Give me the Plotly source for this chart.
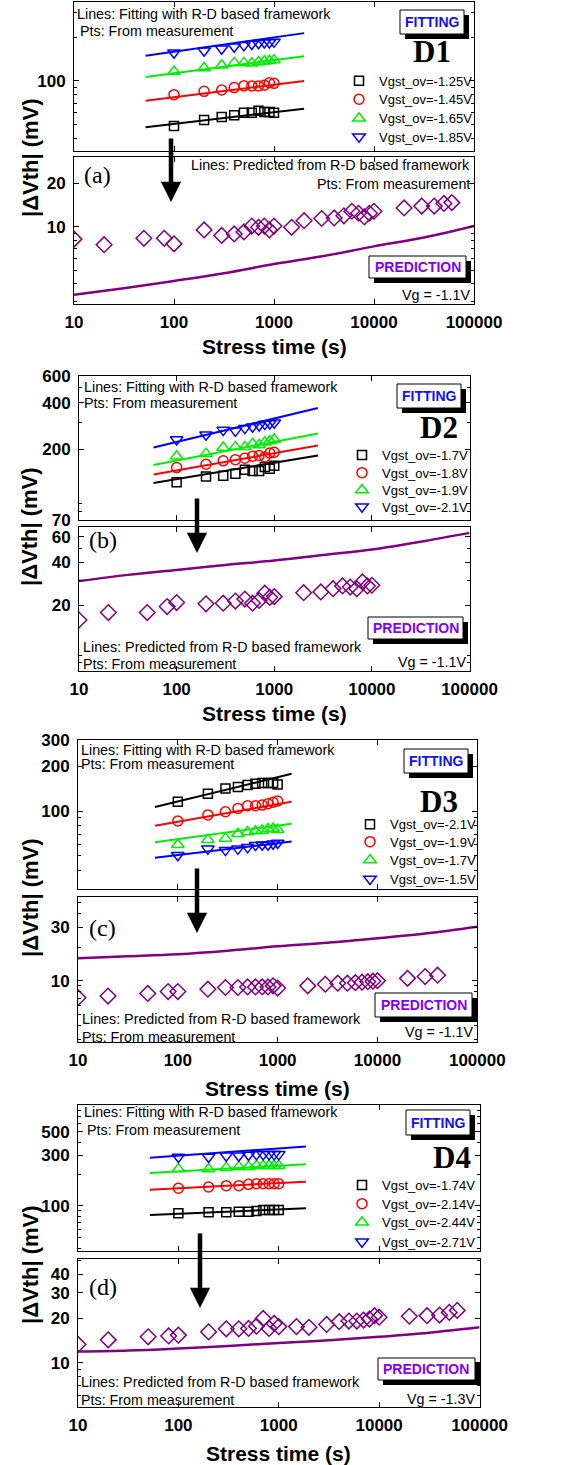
import plotly.graph_objects as go

W, H = 588, 1465

# ---------------- data ----------------
t_fit = [100, 200, 300, 400, 500, 600, 700, 800, 900, 1000]
t_pred = [10, 31.6, 100, 316, 1000, 3162, 10000, 31623, 100000]
x_ticks = [10, 100, 1000, 10000, 100000]
x_ticktext = ["10", "100", "1000", "10000", "100000"]

# Panel (a) D1
a_legend = ["Vgst_ov=-1.25V", "Vgst_ov=-1.45V", "Vgst_ov=-1.65V", "Vgst_ov=-1.85V"]
a_pts_black = [48.4, 53.3, 55.9, 57.5, 60, 60, 61.9, 60.6, 60.6, 60]
a_pts_red = [80, 84.4, 86.2, 89.6, 92.1, 92, 92, 93, 96.8, 95.9]
a_pts_green = [116, 122.5, 127.9, 133, 133, 132, 134.8, 136.4, 137.7, 139]
a_pts_blue = [156.5, 161.6, 166.8, 172, 176, 180, 182, 184, 184, 186]
a_line_t = [52, 2000]
a_line_black = [47.5, 63.9]
a_line_red = [72.6, 99.5]
a_line_green = [106, 148]
a_line_blue = [149, 214]
a_meas_t = [10, 20, 50, 80, 100, 200, 300, 400, 500, 600, 700, 800, 900, 1000, 1500, 2000,
            3000, 4000, 5000, 6000, 7000, 8000, 9000, 10000, 20000, 30000, 40000, 50000, 60000]
a_meas = [8.2, 7.5, 8.3, 8.3, 7.6, 9.5, 8.7, 8.9, 9.2, 10.1, 9.9, 10.1, 9.5, 10.1, 9.9, 11.0,
          11.4, 11.5, 11.9, 12.8, 12.4, 11.7, 12.4, 12.8, 13.5, 13.9, 13.9, 14.5, 14.7]
a_pred = [3.36, 3.74, 4.2, 4.75, 5.5, 6.26, 7.3, 8.4, 10.1]
a_yticks_up = [100]
a_yticks_lo = [10, 20]

# Panel (b) D2
b_legend = ["Vgst_ov=-1.7V", "Vgst_ov=-1.8V", "Vgst_ov=-1.9V", "Vgst_ov=-2.1V"]
b_pts_black = [122.6, 134, 135.5, 139.6, 148, 145, 145, 154, 150, 157]
b_pts_red = [152.8, 160.6, 169, 172, 175.6, 181, 183, 179, 190, 192]
b_pts_green = [181, 188, 206, 208, 208, 218, 214, 223, 227, 232]
b_pts_blue = [232, 249, 267, 264, 275, 281, 286, 292, 295, 298]
b_line_t = [58, 2800]
b_line_black = [121.6, 183]
b_line_red = [138, 212]
b_line_green = [159, 254]
b_line_blue = [206, 371]
b_meas_t = [10, 20, 50, 80, 100, 200, 300, 400, 500, 600, 700, 800, 900, 1000, 2000,
            3000, 4000, 5000, 6000, 7000, 8000, 9000, 10000]
b_meas = [15.8, 17.8, 17.8, 19.6, 20.9, 20.5, 20.7, 21.4, 22.1, 20.7, 21.6, 24.3, 22.7, 23, 24.5,
          24.8, 26.1, 27.3, 26.8, 26.1, 29.1, 27.3, 27.6]
b_pred = [29.5, 32.6, 35.3, 38.2, 41, 44.8, 49, 55.5, 64]
b_yticks_up = [70, 200, 400, 600]
b_yticks_lo = [20, 40, 60]

# Panel (c) D3
c_legend = ["Vgst_ov=-2.1V", "Vgst_ov=-1.9V", "Vgst_ov=-1.7V", "Vgst_ov=-1.5V"]
c_pts_black = [115.6, 130.7, 142, 145, 149.8, 152.8, 154.5, 154.5, 154.5, 151]
c_pts_red = [85.8, 94.3, 99.1, 104.3, 108.6, 108.6, 109.8, 112, 114.6, 117]
c_pts_green = [59.4, 64.3, 65.6, 70.4, 72.5, 73.4, 74.2, 75.8, 76.5, 75]
c_pts_blue = [50.6, 55.8, 54.7, 55.8, 57.1, 59.1, 59.4, 59.4, 60.3, 61]
c_line_t = [59, 1380]
c_line_black = [106.5, 178]
c_line_red = [79.8, 115.6]
c_line_green = [61.8, 82.3]
c_line_blue = [48.6, 62.5]
c_meas_t = [10, 20, 50, 80, 100, 200, 300, 400, 500, 600, 700, 800, 900, 1000, 2000,
            3000, 4000, 5000, 6000, 7000, 8000, 9000, 10000, 20000, 30000, 40000]
c_meas = [7.05, 7.3, 7.7, 8.0, 8.0, 8.4, 8.7, 8.7, 8.8, 8.8, 8.8, 8.8, 9.0, 8.6, 9.0,
          9.3, 9.5, 9.5, 9.6, 9.7, 9.8, 9.9, 10.0, 10.5, 10.9, 11.2]
c_pred = [15.9, 16.5, 17.2, 18.5, 20.3, 21.8, 23.9, 26.5, 30.3]
c_yticks_up = [100, 200, 300]
c_yticks_lo = [10, 30]

# Panel (d) D4
d_legend = ["Vgst_ov=-1.74V", "Vgst_ov=-2.14V", "Vgst_ov=-2.44V", "Vgst_ov=-2.71V"]
d_pts_black = [85.3, 87.2, 87.2, 88.4, 88.4, 89.7, 91.7, 91.7, 91.7, 91.7]
d_pts_red = [146.9, 151, 155.5, 155.5, 160, 162, 162, 162, 162, 162]
d_pts_green = [223.5, 223.5, 230, 235, 235, 240, 240, 240, 240, 240]
d_pts_blue = [290, 290, 298, 298, 303, 307, 307, 307, 307, 307]
d_line_t = [52, 1866]
d_line_black = [82.2, 95.1]
d_line_red = [142.5, 169.5]
d_line_green = [205, 247]
d_line_blue = [285, 365]
d_meas_t = [10, 20, 50, 80, 100, 200, 300, 400, 500, 600, 700, 800, 900, 1000, 1500, 2000,
            3000, 4000, 5000, 6000, 7000, 8000, 9000, 10000, 20000, 30000, 40000, 50000, 60000]
d_meas = [13.3, 14.3, 15.0, 15.2, 15.4, 16.2, 17.0, 17.0, 17.1, 17.7, 20.0, 17.1, 18.5, 17.6, 17.6, 17.4,
          18.2, 19.0, 19.2, 19.2, 19.5, 19.8, 20.9, 20.4, 20.7, 20.9, 21.1, 22.0, 22.7]
d_pred = [11.9, 12.1, 12.5, 13.0, 13.6, 14.2, 15.0, 16.0, 17.4]
d_yticks_up = [100, 300, 500]
d_yticks_lo = [10, 20, 30, 40]

panels_data = [
    dict(legend=a_legend, pts=[a_pts_black, a_pts_red, a_pts_green, a_pts_blue], line_t=a_line_t,
         lines=[a_line_black, a_line_red, a_line_green, a_line_blue], meas_t=a_meas_t, meas=a_meas,
         pred=a_pred, yt_up=a_yticks_up, yt_lo=a_yticks_lo, name="D1", tag="(a)", vg="Vg = -1.1V"),
    dict(legend=b_legend, pts=[b_pts_black, b_pts_red, b_pts_green, b_pts_blue], line_t=b_line_t,
         lines=[b_line_black, b_line_red, b_line_green, b_line_blue], meas_t=b_meas_t, meas=b_meas,
         pred=b_pred, yt_up=b_yticks_up, yt_lo=b_yticks_lo, name="D2", tag="(b)", vg="Vg = -1.1V"),
    dict(legend=c_legend, pts=[c_pts_black, c_pts_red, c_pts_green, c_pts_blue], line_t=c_line_t,
         lines=[c_line_black, c_line_red, c_line_green, c_line_blue], meas_t=c_meas_t, meas=c_meas,
         pred=c_pred, yt_up=c_yticks_up, yt_lo=c_yticks_lo, name="D3", tag="(c)", vg="Vg = -1.1V"),
    dict(legend=d_legend, pts=[d_pts_black, d_pts_red, d_pts_green, d_pts_blue], line_t=d_line_t,
         lines=[d_line_black, d_line_red, d_line_green, d_line_blue], meas_t=d_meas_t, meas=d_meas,
         pred=d_pred, yt_up=d_yticks_up, yt_lo=d_yticks_lo, name="D4", tag="(d)", vg="Vg = -1.3V"),
]

# ---------------- layout geometry (pixels) ----------------
geom = [
    dict(x0=74, x1=474, up=(1.5, 150.7), lo=(157.3, 304), yr_up=(1.514, 2.55), yr_lo=(0.463, 1.482),
         fit_txt=(75, 14, 31, 78), fit_box=(400, 10, 464, 34), dname=(432, 51),
         leg_x=339, leg_rows=(80.7, 99.3, 118.3, 136.7), tag=(82, 175),
         pred_txt=("right", 472, 165, 184), pbox=(369, 256, 466, 278),
         vg=(472, 295), arrow=(171, 137, 202), ytitle=158, xtitle=346),
    dict(x0=79, x1=469.5, up=(375.7, 520), lo=(527.3, 670.7), yr_up=(1.845, 2.7785), yr_lo=(0.845, 1.845),
         fit_txt=(82, 387, 403, 82), fit_box=(397, 384, 461, 408), dname=(439, 427),
         leg_x=342, leg_rows=(455, 472.7, 490, 506.7), tag=(87, 540),
         pred_txt=("left", 81, 647, 664), pbox=(368, 617, 463, 639),
         vg=(468, 662), arrow=(197, 497, 553), ytitle=527, xtitle=713),
    dict(x0=78, x1=477.3, up=(740, 889), lo=(896.7, 1041.7), yr_up=(1.477, 2.4775), yr_lo=(0.4554, 1.7504),
         fit_txt=(79, 750, 764, 79), fit_box=(404, 749, 468, 773), dname=(439, 802),
         leg_x=350, leg_rows=(824.3, 841.7, 860, 879), tag=(87, 928),
         pred_txt=("left", 80, 1019, 1037), pbox=(375, 993, 472, 1017),
         vg=(475, 1032), arrow=(197, 867, 933), ytitle=898, xtitle=1088),
    dict(x0=78, x1=479.5, up=(1105, 1251), lo=(1259, 1406.7), yr_up=(1.575, 2.953), yr_lo=(0.70, 1.706),
         fit_txt=(82, 1112, 1130, 85), fit_box=(406, 1110, 470, 1135), dname=(452, 1157),
         leg_x=342, leg_rows=(1185, 1203.7, 1222.3, 1241.7), tag=(87, 1287),
         pred_txt=("left", 79, 1382, 1400), pbox=(378, 1358, 475, 1380),
         vg=(477, 1399), arrow=(200, 1232, 1308), ytitle=1265, xtitle=1453),
]

COLORS = ["#000000", "#FF0000", "#00EE00", "#0000FF"]
SYMBOLS = ["square-open", "circle-open", "triangle-up-open", "triangle-down-open"]
SIZES = [9, 10, 11, 11]
PURPLE = "#800080"
ARIAL = "Arial, Liberation Sans, sans-serif"
TIMES = "Times New Roman, Liberation Serif, serif"
TXT = 14.3


def px(x):
    return x / W


def py(y):
    return 1 - y / H


def minor_vals(r):
    import math
    vals = []
    for e in range(int(math.floor(r[0])) - 1, int(math.ceil(r[1])) + 1):
        for k in range(2, 10):
            v = k * 10 ** e
            if r[0] <= math.log10(v) <= r[1]:
                vals.append(v)
    return vals


fig = go.Figure()
layout = dict(width=W, height=H, margin=dict(l=0, r=0, t=0, b=0, autoexpand=False), autosize=False,
              paper_bgcolor="white", plot_bgcolor="white", showlegend=True)
annotations = []
shapes = []

axis_common = dict(type="log", showline=True, linecolor="black", linewidth=1, mirror="ticks",
                   ticks="inside", ticklen=5, tickwidth=1, tickcolor="black", showgrid=False,
                   zeroline=False, automargin=False,
                   tickfont=dict(family=ARIAL, size=17, color="black", weight="bold"))

legend_count = 0
for i, (dd, g) in enumerate(zip(panels_data, geom)):
    nu, nl = 2 * i + 1, 2 * i + 2
    xu = "x" if nu == 1 else f"x{nu}"
    yu = "y" if nu == 1 else f"y{nu}"
    xl, yl = f"x{nl}", f"y{nl}"
    kxu = "xaxis" if nu == 1 else f"xaxis{nu}"
    kyu = "yaxis" if nu == 1 else f"yaxis{nu}"
    kxl, kyl = f"xaxis{nl}", f"yaxis{nl}"
    dom_x = [px(g["x0"]), px(g["x1"])]

    layout[kxu] = dict(axis_common, domain=dom_x, range=[1, 5], anchor=yu, tickvals=x_ticks,
                       ticktext=x_ticktext, showticklabels=False)
    layout[kxl] = dict(axis_common, domain=dom_x, range=[1, 5], anchor=yl, tickvals=x_ticks,
                       ticktext=x_ticktext, showticklabels=True, ticklabelstandoff=3)
    layout[kyu] = dict(axis_common, domain=[py(g["up"][1]), py(g["up"][0])], range=list(g["yr_up"]),
                       anchor=xu, tickvals=dd["yt_up"], ticktext=[str(v) for v in dd["yt_up"]],
                       minor=dict(tickvals=minor_vals(g["yr_up"]), ticks="inside", ticklen=3,
                                  tickcolor="black", showgrid=False), ticklabelstandoff=4)
    layout[kyl] = dict(axis_common, domain=[py(g["lo"][1]), py(g["lo"][0])], range=list(g["yr_lo"]),
                       anchor=xl, tickvals=dd["yt_lo"], ticktext=[str(v) for v in dd["yt_lo"]],
                       minor=dict(tickvals=minor_vals(g["yr_lo"]), ticks="inside", ticklen=3,
                                  tickcolor="black", showgrid=False), ticklabelstandoff=4)

    # fit lines
    for k in range(4):
        fig.add_trace(go.Scatter(x=dd["line_t"], y=dd["lines"][k], mode="lines",
                                 line=dict(color=COLORS[k], width=2), xaxis=xu, yaxis=yu,
                                 showlegend=False, hoverinfo="skip"))
    # measured points, one legend box per entry so the rows sit where the reference has them
    for k in range(4):
        legend_count += 1
        legname = "legend" if legend_count == 1 else f"legend{legend_count}"
        layout[legname] = dict(x=px(g["leg_x"]), y=py(g["leg_rows"][k]), xanchor="left",
                               yanchor="middle", bgcolor="rgba(0,0,0,0)",
                               font=dict(family=ARIAL, size=13, color="black"),
                               itemwidth=30, tracegroupgap=0)
        fig.add_trace(go.Scatter(x=t_fit, y=dd["pts"][k], mode="markers", name=dd["legend"][k],
                                 marker=dict(symbol=SYMBOLS[k], size=SIZES[k], color=COLORS[k],
                                             line=dict(width=1.5, color=COLORS[k])),
                                 xaxis=xu, yaxis=yu, legend=legname))
    # prediction
    fig.add_trace(go.Scatter(x=t_pred, y=dd["pred"], mode="lines", line=dict(color=PURPLE, width=2.5),
                             xaxis=xl, yaxis=yl, showlegend=False, line_shape="spline"))
    fig.add_trace(go.Scatter(x=dd["meas_t"], y=dd["meas"], mode="markers",
                             marker=dict(symbol="diamond-open", size=12, color=PURPLE,
                                         line=dict(width=1.5, color=PURPLE)),
                             xaxis=xl, yaxis=yl, showlegend=False))

    # texts
    ft = g["fit_txt"]
    annotations.append(dict(text="Lines: Fitting with R-D based framework", x=px(ft[0]), y=py(ft[1]),
                            xanchor="left", yanchor="middle", showarrow=False,
                            font=dict(family=ARIAL, size=TXT, color="black")))
    annotations.append(dict(text="Pts: From measurement", x=px(ft[3]), y=py(ft[2]),
                            xanchor="left", yanchor="middle", showarrow=False,
                            font=dict(family=ARIAL, size=TXT, color="black")))
    pt = g["pred_txt"]
    annotations.append(dict(text="Lines: Predicted from R-D based framework", x=px(pt[1]), y=py(pt[2]),
                            xanchor=pt[0], yanchor="middle", showarrow=False,
                            font=dict(family=ARIAL, size=TXT, color="black")))
    annotations.append(dict(text="Pts: From measurement", x=px(pt[1]), y=py(pt[3]),
                            xanchor=pt[0], yanchor="middle", showarrow=False,
                            font=dict(family=ARIAL, size=TXT, color="black")))
    annotations.append(dict(text=dd["vg"], x=px(g["vg"][0]), y=py(g["vg"][1]), xanchor="right",
                            yanchor="middle", showarrow=False,
                            font=dict(family=ARIAL, size=TXT, color="black")))
    annotations.append(dict(text="<b>" + dd["name"] + "</b>", x=px(g["dname"][0]), y=py(g["dname"][1]),
                            xanchor="center", yanchor="middle", showarrow=False,
                            font=dict(family=TIMES, size=31, color="black")))
    annotations.append(dict(text=dd["tag"], x=px(g["tag"][0]), y=py(g["tag"][1]), xanchor="left",
                            yanchor="middle", showarrow=False,
                            font=dict(family=TIMES, size=24, color="black")))
    # boxes
    for (bx0, by0, bx1, by1), label, col in [(g["fit_box"], "FITTING", "#1010FF"),
                                             (g["pbox"], "PREDICTION", "#8000FF")]:
        shapes.append(dict(type="rect", xref="paper", yref="paper", x0=px(bx0 + 5), x1=px(bx1 + 5),
                           y0=py(by1 + 5), y1=py(by0 + 5), fillcolor="black", line=dict(width=0),
                           layer="above"))
        shapes.append(dict(type="rect", xref="paper", yref="paper", x0=px(bx0), x1=px(bx1),
                           y0=py(by1), y1=py(by0), fillcolor="white",
                           line=dict(width=1, color="black"), layer="above"))
        annotations.append(dict(text="<b>" + label + "</b>", x=px((bx0 + bx1) / 2), y=py((by0 + by1) / 2),
                                xanchor="center", yanchor="middle", showarrow=False,
                                font=dict(family=ARIAL, size=14, color=col)))
    # arrow
    ax_, ay0, ay1 = g["arrow"]
    annotations.append(dict(text="", x=px(ax_), y=py(ay1), xref="paper", yref="paper",
                            ax=0, ay=-(ay1 - ay0), showarrow=True, arrowhead=2, arrowsize=0.9,
                            arrowwidth=4.5, arrowcolor="black", standoff=0))
    # axis titles
    annotations.append(dict(text="<b>|ΔVth| (mV)</b>", x=px(30), y=py(g["ytitle"]), xanchor="center",
                            yanchor="middle", textangle=-90, showarrow=False,
                            font=dict(family=ARIAL, size=22, color="black")))
    annotations.append(dict(text="<b>Stress time (s)</b>", x=px((g["x0"] + g["x1"]) / 2),
                            y=py(g["xtitle"]), xanchor="center", yanchor="middle", showarrow=False,
                            font=dict(family=ARIAL, size=21, color="black")))

for a in annotations:
    a.setdefault("xref", "paper")
    a.setdefault("yref", "paper")

layout["annotations"] = annotations
layout["shapes"] = shapes
fig.update_layout(**layout)
fig.write_html("out.html", config={"responsive": False, "displayModeBar": False},
               post_script="document.body.style.margin='0';document.body.style.padding='0';"
                           "document.documentElement.style.overflow='hidden';")
